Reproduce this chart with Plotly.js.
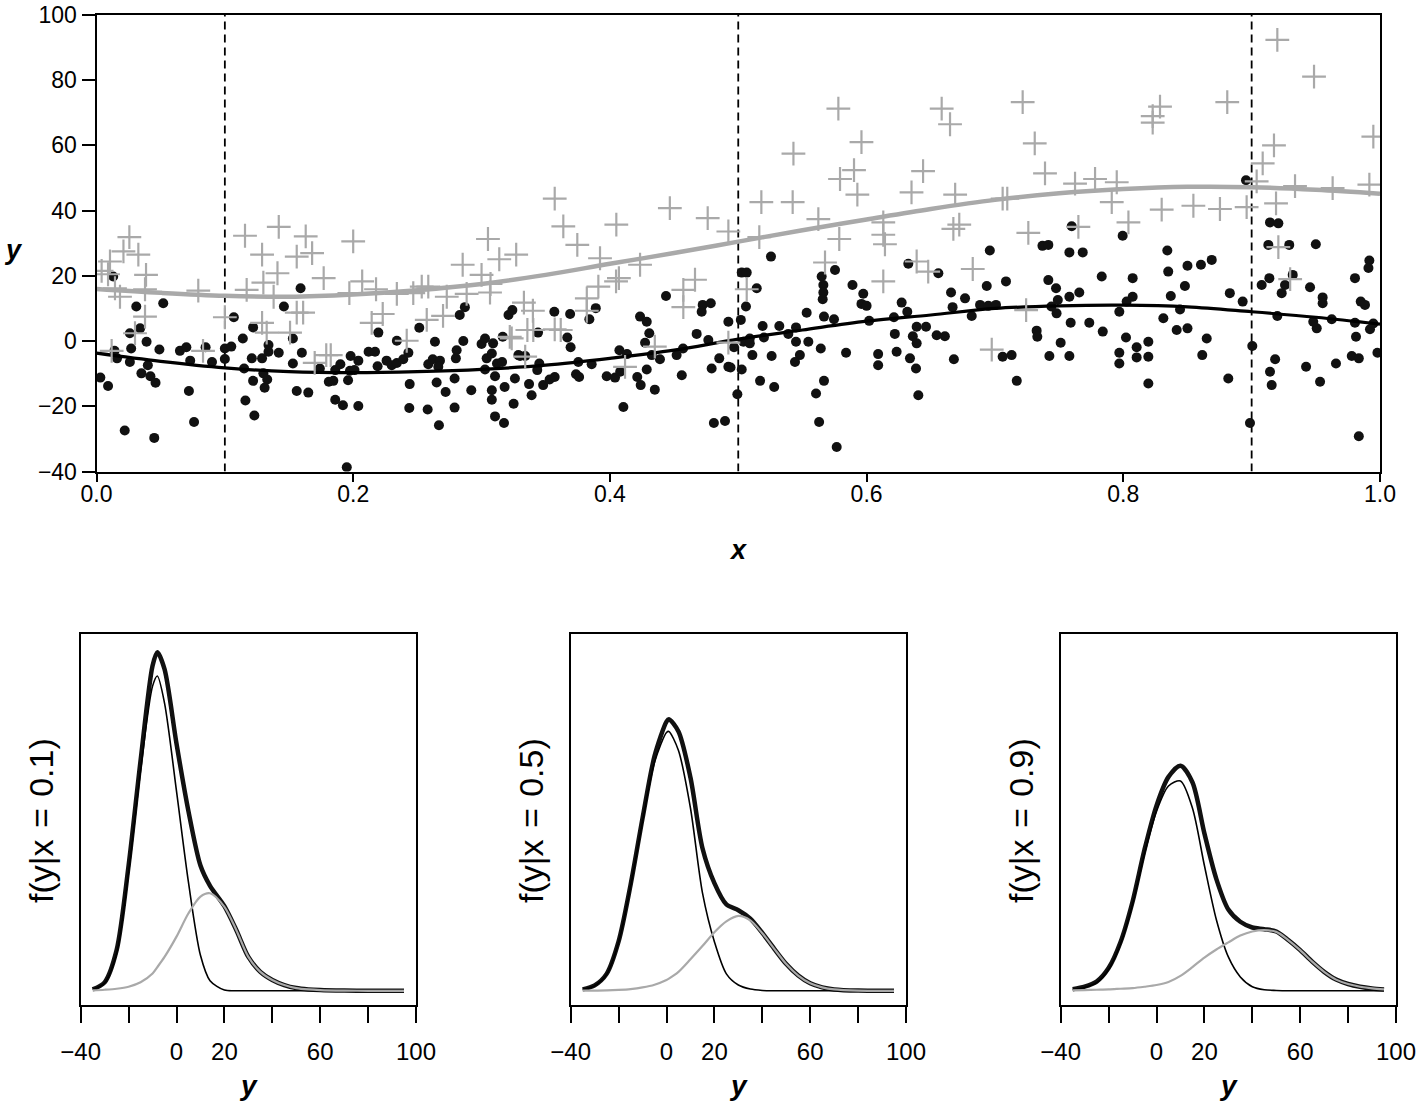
<!DOCTYPE html>
<html>
<head>
<meta charset="utf-8">
<script src="https://cdn.plot.ly/plotly-3.0.1.min.js"></script>
<style>html,body{margin:0;padding:0;background:#fff;}#chart{width:1419px;height:1107px;}</style>
</head>
<body>
<div id="chart"></div>
<script>
// ---------- top panel data ----------
const blackX = [0.013,0.031,0.052,0.034,0.026,0.039,0.027,0.014,0.016,0.026,0.040,0.035,0.042,0.046,0.003,0.009,0.049,0.065,0.070,0.073,0.085,0.090,0.072,0.076,0.022,0.045,0.100,0.105,0.100,0.107,0.114,0.122,0.121,0.129,0.134,0.134,0.142,0.115,0.122,0.130,0.133,0.131,0.116,0.123,0.159,0.146,0.153,0.160,0.153,0.156,0.165,
0.174,0.186,0.190,0.181,0.1845,0.196,0.1975,0.201,0.198,0.204,0.212,0.217,0.219,0.2196,0.226,0.230,0.234,0.234,0.239,0.243,0.186,0.192,0.204,0.195,0.244,0.2437,0.2515,0.2637,0.2585,0.262,0.2676,0.265,0.272,0.258,0.2668,0.2663,0.279,0.279,0.280,0.2806,0.2858,0.283,0.287,0.292,0.300,0.3027,0.309,0.304,0.308,0.312,0.316,0.3027,0.3105,0.308,0.308,0.318,0.3105,0.3175,0.3165,0.321,0.324,0.326,0.325,0.3287,
0.344,0.3567,0.369,0.384,0.389,0.3668,0.3694,0.330,0.334,0.345,0.3434,0.337,0.348,0.353,0.357,0.339,0.3754,0.3858,0.3736,0.376,0.3975,0.404,0.408,0.4074,0.4133,0.4105,0.4235,0.4287,0.4307,0.4274,0.4213,0.424,0.4287,0.4326,0.439,0.435,0.4437,0.452,0.457,0.456,0.4676,0.4723,0.4715,0.4786,0.4767,0.4852,0.4793,0.481,0.4897,0.4923,0.4923,
0.502,0.5027,0.5066,0.5144,0.506,0.4967,0.504,0.509,0.509,0.511,0.494,0.5027,0.4993,0.517,0.519,0.520,0.5255,0.526,0.528,0.532,0.539,0.545,0.545,0.548,0.5442,0.5533,0.5546,0.5643,0.5606,0.5668,0.563,0.5767,0.565,0.5663,0.5663,0.5658,0.5668,0.5746,0.5754,0.584,0.589,0.5974,0.596,0.600,0.602,0.609,0.609,0.622,0.6234,0.6213,0.6273,0.6317,0.6325,0.636,0.639,0.639,0.6338,0.6385,0.6403,0.6463,0.6546,0.6559,
0.6658,0.6767,0.696,0.6936,0.7086,0.667,0.6819,0.6884,0.6948,0.7008,0.661,0.668,0.706,0.713,0.717,0.7325,0.733,0.737,0.7416,0.7416,0.7476,0.749,0.744,0.748,0.7424,0.7512,0.758,0.758,0.7684,0.7598,0.758,0.7657,0.759,0.7735,0.7832,0.784,0.7995,0.8073,0.8073,0.8026,0.7969,0.8021,0.7969,0.7969,0.8104,0.8104,0.8195,0.8195,0.8195,
0.8343,0.835,0.848,0.850,0.8605,0.8689,0.837,0.8442,0.8312,0.8416,0.850,0.865,0.8615,0.8818,0.883,0.893,0.8956,0.9005,0.8987,0.9143,0.9208,0.913,0.9293,0.950,0.9138,0.9078,0.926,0.932,0.9234,0.9455,0.9553,0.9553,0.920,0.9507,0.948,0.9624,0.9805,0.9922,0.9948,0.9805,0.9917,0.991,0.985,0.9883,0.9813,0.998,0.978,0.9835,0.9657,0.9424,0.9533,0.9183,0.9143,0.9156,0.9835];
const blackY = [19.8,10.6,11.6,3.9,2.4,-0.2,-2.3,-3,-5.3,-6.4,-7.4,-9.9,-10.8,-12.8,-11.2,-13.8,-2.6,-3,-1.9,-6,-1.9,-6.4,-15.3,-24.8,-27.4,-29.7,-2.3,-1.7,-5.5,7.3,0.8,4.2,-5.3,-5.3,-1.2,-3.3,-3.6,-8.4,-12.2,-9.9,-11.8,-14.3,-18.2,-22.8,16.2,10.6,0.8,-3.6,-6.9,-15.3,-15.8,
-8.4,-8.9,-7.1,-12.5,-12.2,-12,-9.1,-8.9,-4.6,-6,-3.3,-3.3,-7.7,2.6,-6,-7.4,-6.7,0.1,-5.6,-3.6,-18,-19.7,-19.9,-38.7,-13.2,-20.5,4.1,-0.2,-7.1,-5.6,-6,-12.7,-15.6,-21,-25.8,-7.9,-20.4,-11.5,-5.3,-2.8,0,8,10.4,-15.1,-0.9,0.8,-0.7,-5.3,-3.8,-6.9,-6.4,-8.7,-10.8,-15.1,-18,-14.1,-23.1,-25.1,1.3,8,9.5,-11.5,-19.2,-4.3,
2.6,9,8.3,6.7,10.1,1.1,-1.9,-4.6,-4.6,-6.9,-8.9,-13.2,-13.5,-11.8,-11,-16.6,-6.4,-7.1,-10.2,-11,-10.8,-11.2,-9.4,-2.8,-4,-20.2,7.5,5.9,2.4,-0.5,-11,-13.5,-8.7,-4.3,-5.6,-14.9,13.8,-4.3,-2.3,-10.5,2.2,11.1,9,11.6,0.3,-5.3,-8.4,-25.1,-24.5,5.9,-7.9,
6.5,21,21,16.2,10.6,-1.9,-0.2,0.8,-0.7,-4.3,-8.1,-8.7,-16.3,-12.2,4.6,1.1,25.9,-4.6,-14.1,4.6,2.2,4.2,-0.2,-4.3,-6.4,8.7,-0.2,-2.3,-16.1,-12.2,-24.8,-32.5,19.8,17.2,14.9,12.8,7.5,6.7,21.8,-3.6,17.2,14.5,11.4,10.8,6.2,-4,-7.4,2.2,-3.3,7.3,11.8,9,23.7,1.5,4.4,-0.7,-5.3,-8.4,-16.6,4.4,1.8,20.8,
14.9,13.1,27.8,16.9,18.3,10.4,7.7,11.1,10.8,11.1,1.5,-5.6,-4.8,-4.3,-12.2,3.2,1.3,29.2,29.5,18.7,16.2,12.6,10.6,8.5,-4.6,-0.5,-4.6,27.2,27.2,35.2,13.6,14.9,5.6,5.6,19.8,2.9,32.3,19.3,13.6,12.1,9,1.1,-3.6,-6.9,-1.9,-5,-0.2,-4.8,-13,
27.8,21.3,16.9,23.1,23.4,24.9,13.8,9.7,7,3.4,3.9,0.8,-4.3,-11.5,14.7,12.1,49.3,-1.5,-25.1,36.4,36.1,29.5,29.5,29.7,19.3,17.2,17.2,20.3,14.7,16.5,13.4,11.6,7.7,3.9,5.9,6.7,5.6,3.6,5.4,19.3,24.7,22.4,12.1,11.1,1.3,-3.6,-4.6,-5.3,-6.9,-7.9,-12.5,-5.6,-9.4,-13.5,-29.2];

const grayX = [0.004,0.009,0.0105,0.021,0.0256,0.0326,0.0386,0.0378,0.0183,0.0144,0.0378,0.030,0.0118,0.083,0.0793,0.100,0.1157,0.142,0.129,0.130,0.117,0.141,0.138,0.156,0.163,0.156,0.161,0.129,0.1326,0.1508,
0.168,0.177,0.200,0.197,0.207,0.2178,0.2144,0.223,0.234,0.2417,0.2468,0.2534,0.2585,0.2573,0.270,0.2729,0.2853,0.2884,0.300,0.305,0.3138,0.3066,0.307,0.1825,0.179,0.170,0.322,0.327,
0.357,0.3637,0.3746,0.3923,0.405,0.407,0.4048,0.4235,0.391,0.382,0.382,0.333,0.340,0.3357,0.3403,0.357,0.3617,0.3235,0.334,0.4118,0.435,0.4467,0.4572,0.4663,0.4572,0.4762,0.4923,0.4923,
0.5066,0.5164,0.518,0.5424,0.543,0.5624,0.5676,0.578,0.5793,0.5787,0.5902,0.5928,0.596,0.613,0.613,0.6143,0.613,0.635,0.644,0.639,0.648,
0.6585,0.665,0.7216,0.731,0.739,0.7624,0.778,0.7949,0.791,0.804,0.765,0.726,0.669,0.706,0.7096,0.6676,0.6722,0.6827,0.6975,0.7243,
0.8229,0.8286,0.8229,0.881,0.920,0.9486,0.9948,0.9174,0.9086,0.9039,0.9338,0.9631,0.9917,0.8299,0.8546,0.8753,0.8961,0.919,0.9208,0.930];
const grayY = [21.5,20.5,24.4,27.5,31.9,26.5,20.3,15.9,13.6,16.2,7.5,2.4,-3,-3,15.5,7.3,32.3,35,26.5,17.9,15.7,20.8,13.6,25.9,32.1,8.7,8.7,5.6,2.6,2.6,
27,19.3,30.6,14.7,18.3,15.9,5.6,8.3,14.5,0.1,14.7,16.7,16.7,6.5,7.7,13.6,23.4,14.5,20.3,31.3,25.1,14.9,17.5,-4.3,-4.3,-6.7,1.3,26.5,
43.7,35.2,29.5,25.4,35.7,19.3,18.3,23.4,16.7,13.1,9.3,11.8,9.3,3.4,3.4,3.6,3.4,0.8,-4.8,-7.9,-1.7,40.8,15.7,18.8,10.4,37.7,33.6,-0.5,
15.9,31.9,42.6,42.6,57.5,37.4,24.1,71.3,49.7,31.3,52.4,44.9,61,36.4,32.6,29.7,18.3,45.6,52.1,24.4,21.3,
71.3,66.5,73.3,60.6,51.4,48.3,49.7,48.7,42.6,36.4,35,33.2,44.9,43.7,43.7,34.4,35.7,22.1,-2.6,9.5,
69,71.9,67,73.3,92.4,81.1,62.7,60,54.5,49,47.5,46.9,48,40.3,41.5,40.5,41.1,42.2,28.8,19];

const curveX = [0,0.05,0.1,0.15,0.2,0.25,0.3,0.35,0.4,0.45,0.5,0.55,0.6,0.65,0.7,0.75,0.8,0.85,0.9,0.95,1.0];
const blackCurve = [-3.7,-6.2,-8.2,-9.4,-9.7,-9.4,-8.7,-7.4,-5.3,-2.8,0.6,3.4,6.1,8,10,10.8,11,10.5,9,7.3,5.2];
const grayCurve = [16,14.8,13.9,13.6,14.3,15.6,17.5,20.3,23.7,27,30.5,34,37.3,40.5,43.3,45.3,46.6,47.3,47.2,46.4,45.2];
const cutX = [0.1,0.5,0.9];

const topXTicks = [0,0.2,0.4,0.6,0.8,1.0];
const topXLabels = ['0.0','0.2','0.4','0.6','0.8','1.0'];
const topYTicks = [-40,-20,0,20,40,60,80,100];
const topYLabels = ['\u221240','\u221220','0','20','40','60','80','100'];

// ---------- conditional densities (relative heights) ----------
const densGrid1 = [-35,-30,-25,-20,-15,-10,-8,-5,0,5,10,14,20,25,30,35,40,45,50,55,60,70,80,95];
const densTotal1 = [0.4,2.5,12,37,68,96,100,95,73,53,37,31,25,17.9,10,5.6,3.2,1.7,0.8,0.4,0.2,0.05,0,0];
const densComp1_1 = [0.35,2.3,11,35,65,90,93,85,59,32,10.5,3,0.2,0,0,0,0,0,0,0,0,0,0,0];
const densComp2_1 = [0.1,0.3,0.6,1.2,2.5,5.1,7,10,16,22.9,27.8,28.8,24.8,17.9,10,5.6,3.2,1.7,0.8,0.4,0.2,0.05,0,0];

const densGrid2 = [-35,-30,-25,-20,-15,-10,-5,0,1,5,10,15,20,25,30,35,40,45,50,55,60,65,70,80,95];
const densTotal2 = [0.4,1.6,5,14.6,31.3,51,69.3,79.5,80.2,76.6,63,42.2,31.8,25.5,23.8,21.3,17.1,12.4,7.9,4.5,2.2,1,0.4,0.05,0];
const densComp1_2 = [0.35,1.5,4.8,14.3,30.8,50,67.5,76.3,76.6,71,54,29,14.5,5,1.7,0.5,0.1,0,0,0,0,0,0,0,0];
const densComp2_2 = [0.02,0.05,0.1,0.25,0.5,1,1.8,3.2,3.6,5.6,9.3,13.2,17.3,20.5,22.1,20.8,17,12.4,7.9,4.5,2.2,1,0.4,0.05,0];

const densGrid3 = [-35,-30,-25,-20,-15,-10,-5,0,5,10,15,20,25,30,35,40,45,50,55,60,65,70,75,80,85,90,95];
const densTotal3 = [0.45,1.2,2.7,6.7,14.4,26.3,41.7,54.7,63.2,66.5,61.6,46.5,33,24,20.4,18.7,18.2,17.5,15,12,8.6,5.6,3.3,2,1.2,0.7,0.4];
const densComp1_3 = [0.35,1,2.4,6.3,13.8,25.5,40.5,53,60.5,62,54,37,21,10,4.1,1.2,0.3,0.1,0,0,0,0,0,0,0,0,0];
const densComp2_3 = [0.1,0.2,0.3,0.4,0.6,0.8,1.2,1.7,2.6,4.4,7,9.8,12.2,14.3,16.3,17.5,17.9,17.4,15,12,8.6,5.6,3.3,2,1.2,0.7,0.4];

const panelXLabel = ['0.1','0.5','0.9'];
const densXTicks = [-40,-20,0,20,40,60,80,100];
const densXLabels = ['\u221240','','0','20','','60','','100'];

// ---------- styling ----------
const FONT = 'Liberation Sans, Arial, Helvetica, sans-serif';
const GRAY = '#a9a9a9';
const traces = [];

cutX.forEach(c => traces.push({x:[c,c], y:[-40,100], xaxis:'x', yaxis:'y', mode:'lines',
  line:{color:'#000', width:1.8, dash:'8px,5px'}, hoverinfo:'skip', showlegend:false}));

traces.push({x:blackX, y:blackY, xaxis:'x', yaxis:'y', mode:'markers', type:'scatter',
  marker:{color:'#111', size:10, line:{width:0}}, showlegend:false});
traces.push({x:curveX, y:blackCurve, xaxis:'x', yaxis:'y', mode:'lines',
  line:{color:'#000', width:3.2, shape:'spline'}, showlegend:false});
traces.push({x:grayX, y:grayY, xaxis:'x', yaxis:'y', mode:'markers', type:'scatter',
  marker:{symbol:'cross-thin', size:17, color:GRAY, line:{color:GRAY, width:2.2}}, showlegend:false});
traces.push({x:curveX, y:grayCurve, xaxis:'x', yaxis:'y', mode:'lines',
  line:{color:GRAY, width:4.5, shape:'spline'}, showlegend:false});

const dens = [
  [densGrid1, densTotal1, densComp1_1, densComp2_1],
  [densGrid2, densTotal2, densComp1_2, densComp2_2],
  [densGrid3, densTotal3, densComp1_3, densComp2_3]
];
dens.forEach((d, i) => {
  const xa = 'x' + (i + 2), ya = 'y' + (i + 2);
  traces.push({x:d[0], y:d[1], xaxis:xa, yaxis:ya, mode:'lines', line:{color:'#111', width:4.5, shape:'spline', smoothing:0.8}, showlegend:false});
  traces.push({x:d[0], y:d[2], xaxis:xa, yaxis:ya, mode:'lines', line:{color:'#000', width:1.6, shape:'spline', smoothing:0.8}, showlegend:false});
  traces.push({x:d[0], y:d[3], xaxis:xa, yaxis:ya, mode:'lines', line:{color:GRAY, width:2.2, shape:'spline', smoothing:0.8}, showlegend:false});
});

const W = 1419, H = 1107;
const px = v => v / W, py = v => 1 - v / H;

const axBase = {showgrid:false, zeroline:false, showline:true, mirror:true, linecolor:'#000', linewidth:2,
  ticks:'outside', tickwidth:2, tickcolor:'#000', ticklen:11,
  tickfont:{family:FONT, size:23, color:'#000'}};

const ann = (text, x, y, size, angle) => ({text:text, x:px(x), y:py(y), xref:'paper', yref:'paper', showarrow:false,
  xanchor:'center', yanchor:'middle', textangle:angle || 0, font:{family:FONT, size:size, color:'#000'}});

const layout = {
  width:W, height:H, margin:{l:0, r:0, t:0, b:0},
  paper_bgcolor:'#fff', plot_bgcolor:'#fff', showlegend:false,
  font:{family:FONT, color:'#000'},
  xaxis: Object.assign({}, axBase, {domain:[px(96.5), px(1380)], anchor:'y', range:[0,1],
    tickmode:'array', tickvals:topXTicks, ticktext:topXLabels, ticklen:8, ticklabelstandoff:-7}),
  yaxis: Object.assign({}, axBase, {domain:[py(471.5), py(15)], anchor:'x', range:[-40,100],
    tickmode:'array', tickvals:topYTicks, ticktext:topYLabels, ticklen:13}),
  annotations: [
    ann('<b><i>y</i></b>', 13, 250, 27),
    ann('<b><i>x</i></b>', 738, 550, 27)
  ]
};

const panelL = [80.7, 570.7, 1060.7], panelR = [416, 906, 1396];
const labX = [41, 531, 1021];
for (let i = 0; i < 3; i++) {
  layout['xaxis' + (i + 2)] = Object.assign({}, axBase, {domain:[px(panelL[i]), px(panelR[i])], anchor:'y' + (i + 2),
    range:[-40,100], tickmode:'array', tickvals:densXTicks, ticktext:densXLabels, ticklen:16,
    tickfont:{family:FONT, size:24, color:'#000'}, ticklabelstandoff:8});
  layout['yaxis' + (i + 2)] = Object.assign({}, axBase, {domain:[py(1005), py(634)], anchor:'x' + (i + 2),
    range:[-4.2,105.4], ticks:'', showticklabels:false});
  layout.annotations.push(ann('<b><i>y</i></b>', (panelL[i] + panelR[i]) / 2, 1085, 28));
  layout.annotations.push(ann('f(y|x\u2004=\u2004' + panelXLabel[i] + ')', labX[i], 821, 34, -90));
}

Plotly.newPlot('chart', traces, layout, {staticPlot:true, displayModeBar:false});
</script>
</body>
</html>
